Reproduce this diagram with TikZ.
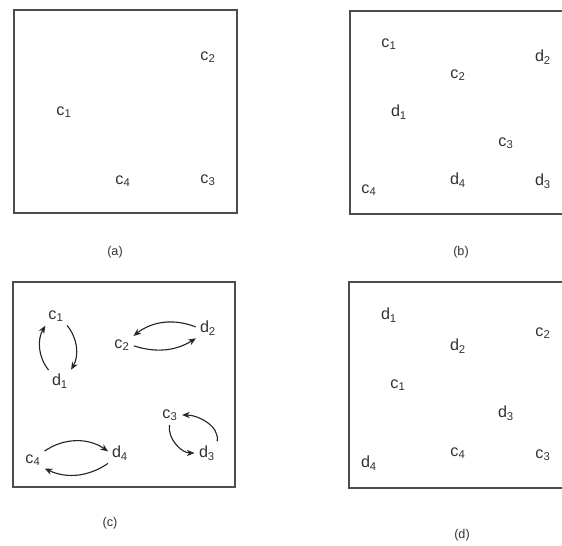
\documentclass[tikz,border=0pt]{standalone}
\usepackage{fontspec}
\setmainfont{Liberation Sans}
\usetikzlibrary{arrows.meta}

\newcommand{\lbl}[2]{#1\textsubscript{#2}}

\begin{document}
\begin{tikzpicture}[x=0.025cm, y=-0.025cm, >={Stealth[length=5.5pt,width=4.5pt]},
  box/.style={draw=black!70, line width=1pt},
  pnt/.style={font=\fontsize{11.5}{12}\selectfont, text=black!80, inner sep=1pt},
  subcap/.style={font=\fontsize{9}{10}\selectfont, text=black!80},
  swaparr/.style={line width=0.8pt, black!85, shorten <=2pt, shorten >=2pt}]
  \clip (0,0) rectangle (562,546);
  \fill[white] (0,0) rectangle (562,546);

  % (a) initial centres
  \draw[box] (14,10) rectangle (237,213);
  \node[pnt] (a-c2) at (208,57) {\lbl{c}{2}};
  \node[pnt] (a-c1) at (64,112) {\lbl{c}{1}};
  \node[pnt] (a-c4) at (123,181) {\lbl{c}{4}};
  \node[pnt] (a-c3) at (208,180) {\lbl{c}{3}};
  \node[subcap] (a-cap) at (115,252) {(a)};

  % (b) centres and data points
  \draw[box] (350,11) rectangle (564,214);
  \node[pnt] (b-c1) at (389,44) {\lbl{c}{1}};
  \node[pnt] (b-c2) at (458,75) {\lbl{c}{2}};
  \node[pnt] (b-d2) at (543,57) {\lbl{d}{2}};
  \node[pnt] (b-d1) at (399,112) {\lbl{d}{1}};
  \node[pnt] (b-c3) at (506,143) {\lbl{c}{3}};
  \node[pnt] (b-d4) at (458,180) {\lbl{d}{4}};
  \node[pnt] (b-d3) at (543,181) {\lbl{d}{3}};
  \node[pnt] (b-c4) at (369,190) {\lbl{c}{4}};
  \node[subcap] (b-cap) at (461,252) {(b)};

  % (c) swaps
  \draw[box] (13,282) rectangle (235,487);
  \node[pnt] (c1) at (56,316) {\lbl{c}{1}};
  \node[pnt] (d1) at (60,381) {\lbl{d}{1}};
  \node[pnt] (c2) at (122,345) {\lbl{c}{2}};
  \node[pnt] (d2) at (208,328) {\lbl{d}{2}};
  \node[pnt] (c3) at (170,415) {\lbl{c}{3}};
  \node[pnt] (d3) at (207,453) {\lbl{d}{3}};
  \node[pnt] (c4) at (33,460) {\lbl{c}{4}};
  \node[pnt] (d4) at (120,453) {\lbl{d}{4}};
  \node[subcap] (c-cap) at (110,523) {(c)};

  \draw[swaparr,->] (c1.south east) to[bend left=35] (d1.north east);
  \draw[swaparr,->] (d1.north west) to[bend left=35] (c1.south west);
  \draw[swaparr,->] (c2.east) to[bend right=25] (d2.south west);
  \draw[swaparr,->] (d2.west) to[bend right=30] (c2.north east);
  \draw[swaparr,->] (c4.north east) to[bend left=35] (d4.west);
  \draw[swaparr,->] (d4.south west) to[bend left=30] (c4.south east);
  \draw[swaparr,->] (c3.south) to[out=-100,in=180] (d3.west);
  \draw[swaparr,->] (d3.north east) to[out=80,in=0] (c3.east);

  % (d) after swapping
  \draw[box] (349,282) rectangle (564,488);
  \node[pnt] (d-d1) at (389,315) {\lbl{d}{1}};
  \node[pnt] (d-d2) at (458,346) {\lbl{d}{2}};
  \node[pnt] (d-c2) at (543,333) {\lbl{c}{2}};
  \node[pnt] (d-c1) at (398,385) {\lbl{c}{1}};
  \node[pnt] (d-d3) at (506,413) {\lbl{d}{3}};
  \node[pnt] (d-c4) at (458,453) {\lbl{c}{4}};
  \node[pnt] (d-c3) at (543,455) {\lbl{c}{3}};
  \node[pnt] (d-d4) at (369,463) {\lbl{d}{4}};
  \node[subcap] (d-cap) at (462,535) {(d)};
\end{tikzpicture}
\end{document}
